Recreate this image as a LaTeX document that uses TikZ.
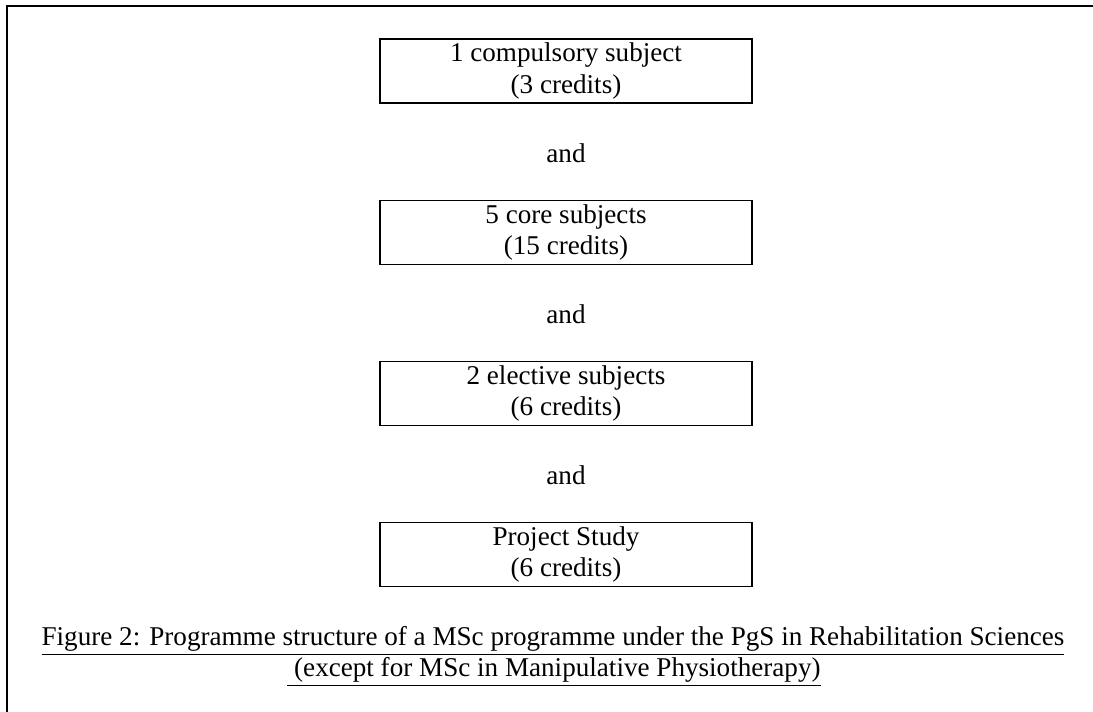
\documentclass[tikz,border=0pt]{standalone}
\usepackage{fontspec}
\setmainfont{Liberation Serif}
\tikzset{
  subjbox/.style={draw, line width=0.8pt, minimum width=164.6pt, minimum height=28.3pt, inner sep=0pt, align=center, font=\fontsize{12}{13.8}\selectfont},
  andtxt/.style={inner sep=0pt, font=\fontsize{12}{13.8}\selectfont},
  captxt/.style={inner sep=0pt, anchor=base, font=\fontsize{12}{13.8}\selectfont},
  frameline/.style={line width=1pt}
}
\begin{document}
\begin{tikzpicture}[x=0.4425pt,y=-0.4425pt]
\useasboundingbox (0,0) rectangle (1093,711);
\clip (0,0) rectangle (1093,711);
\draw[frameline] (7,730) -- (7,6) -- (1110,6);
\node[subjbox] (b1) at (566,71) {1 compulsory subject\\(3 credits)};
\node[andtxt] (a1) at (566,153) {and};
\node[subjbox] (b2) at (566,232.5) {5 core subjects\\(15 credits)};
\node[andtxt] (a2) at (566,314) {and};
\node[subjbox] (b3) at (566,393.5) {2 elective subjects\\(6 credits)};
\node[andtxt] (a3) at (566,475) {and};
\node[subjbox] (b4) at (566,554.5) {Project Study\\(6 credits)};
\node[captxt] (c1) at (553,645) {\underline{Figure 2: Programme structure of a MSc programme under the PgS in Rehabilitation Sciences}};
\node[captxt] (c2) at (554,676) {\underline{\ (except for MSc in Manipulative Physiotherapy)}};
\end{tikzpicture}
\end{document}
